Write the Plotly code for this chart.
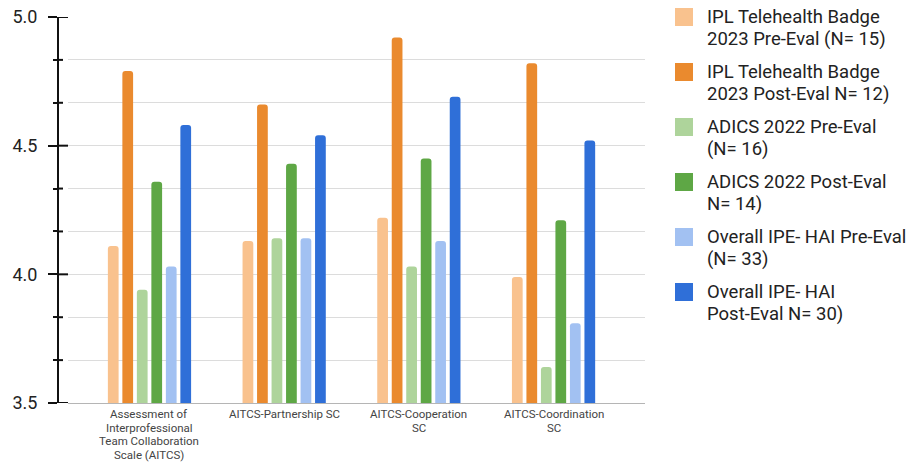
import plotly.graph_objects as go

# Categories on the x axis (line breaks as they appear under each group)
categories = [
    "Assessment of<br>Interprofessional<br>Team Collaboration<br>Scale (AITCS)",
    "AITCS-Partnership SC",
    "AITCS-Cooperation<br>SC",
    "AITCS-Coordination<br>SC",
]

series_names = [
    "IPL Telehealth Badge<br>2023 Pre-Eval (N= 15)",
    "IPL Telehealth Badge<br>2023 Post-Eval N= 12)",
    "ADICS 2022 Pre-Eval<br>(N= 16)",
    "ADICS 2022 Post-Eval<br>N= 14)",
    "Overall IPE- HAI Pre-Eval<br>(N= 33)",
    "Overall IPE- HAI<br>Post-Eval N= 30)",
]

ipl_pre = [4.11, 4.13, 4.22, 3.99]
ipl_post = [4.79, 4.66, 4.92, 4.82]
adics_pre = [3.94, 4.14, 4.03, 3.64]
adics_post = [4.36, 4.43, 4.45, 4.21]
overall_pre = [4.03, 4.14, 4.13, 3.81]
overall_post = [4.58, 4.54, 4.69, 4.52]

series_values = [ipl_pre, ipl_post, adics_pre, adics_post, overall_pre, overall_post]
series_colors = ["#f9c28e", "#ea8a2e", "#aed49b", "#5ea745", "#a2c1f2", "#2f6fd8"]

Y_MIN, Y_MAX, Y_MAJOR = 3.5, 5.0, 0.5
Y_MINOR = Y_MAJOR / 3

W, H = 918, 464
TOP, BOTTOM = 17, 61
PLOT_H = H - TOP - BOTTOM
FONT = "Roboto"

fig = go.Figure()
for name, vals, color in zip(series_names, series_values, series_colors):
    fig.add_trace(go.Bar(
        x=categories, y=vals, name=name.replace("<br>", " "),
        marker=dict(color=color, line=dict(width=0)),
        showlegend=False,
    ))

# y axis drawn just left of the plotting area
axis_px = 58
axis_x = axis_px / W
tick_color = "#111"
fig.update_layout(
    width=W, height=H,
    margin=dict(l=0, r=0, t=TOP, b=BOTTOM, autoexpand=False),
    paper_bgcolor="white", plot_bgcolor="white",
    font=dict(family=FONT, color="#222"),
    barmode="group", bargap=0.354, bargroupgap=0.26, barcornerradius=3,
    xaxis=dict(
        domain=[68 / W, 645 / W],
        range=[-0.605, 3.679],
        showgrid=False, showline=True, linecolor="#b5b5b5", linewidth=1,
        ticks="", showticklabels=False, automargin=False,
    ),
    yaxis=dict(
        range=[Y_MIN, Y_MAX], anchor="free", position=axis_x, automargin=False,
        dtick=Y_MAJOR, tick0=Y_MIN, tickformat=".1f",
        showgrid=True, gridcolor="#dcdcdc", gridwidth=1,
        showline=True, linecolor=tick_color, linewidth=2,
        ticks="outside", ticklen=9, tickwidth=2, tickcolor=tick_color,
        tickfont=dict(size=18, color="#222"), ticklabelstandoff=7,
        minor=dict(dtick=Y_MINOR, tick0=Y_MIN, ticks="outside", ticklen=4,
                   tickwidth=2, tickcolor=tick_color,
                   showgrid=True, gridcolor="#dcdcdc", gridwidth=1),
        zeroline=False,
    ),
)

# right-hand half of each tick, so ticks cross the axis line
n_steps = int(round((Y_MAX - Y_MIN) / Y_MINOR))
for i in range(n_steps + 1):
    v = Y_MIN + i * Y_MINOR
    length = 10 if i % 3 == 0 else 5
    fig.add_shape(type="line", xref="paper", yref="y",
                  x0=axis_x, x1=(axis_px + length) / W, y0=v, y1=v,
                  line=dict(color=tick_color, width=2))

# Category labels under each group, tightly spaced lines
x_line_gap = 13.5
for cat in categories:
    for i, line in enumerate(cat.split("<br>")):
        fig.add_annotation(text=line, xref="x", yref="paper", x=cat, y=0,
                           yanchor="middle", xanchor="center", showarrow=False,
                           yshift=-(11 + x_line_gap * i),
                           font=dict(size=11.5, color="#444", family=FONT))

# Legend: colour squares with two-line labels to the right of the plot
step = 55
sq = 18
leg_line_gap = 21.7
for k, (name, color) in enumerate(zip(series_names, series_colors)):
    cy = 17 + step * k
    fig.add_shape(type="rect", xref="paper", yref="paper",
                  x0=675 / W, x1=(675 + sq) / W,
                  y0=1 - (cy + sq / 2 - TOP) / PLOT_H, y1=1 - (cy - sq / 2 - TOP) / PLOT_H,
                  fillcolor=color, line=dict(width=0))
    for i, line in enumerate(name.split("<br>")):
        fig.add_annotation(text=line, xref="paper", yref="paper",
                           x=705 / W, y=1 - (cy + leg_line_gap * i - TOP) / PLOT_H,
                           xanchor="left", yanchor="middle", align="left", showarrow=False,
                           font=dict(size=18.5, color="#222", family=FONT))

fig.write_html("out.html")
